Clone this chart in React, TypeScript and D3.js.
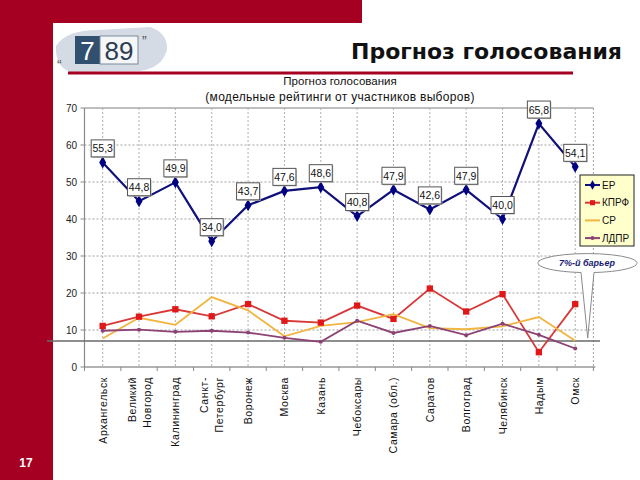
import React from 'react';
import * as d3 from 'd3';

// cities (multi-line labels split into arrays)
const cities: string[][] = [
  ['Архангельск'],
  ['Великий', 'Новгород'],
  ['Калининград'],
  ['Санкт-', 'Петербург'],
  ['Воронеж'],
  ['Москва'],
  ['Казань'],
  ['Чебоксары'],
  ['Самара (обл.)'],
  ['Саратов'],
  ['Волгоград'],
  ['Челябинск'],
  ['Надым'],
  ['Омск'],
];

const er = [55.3, 44.8, 49.9, 34.0, 43.7, 47.6, 48.6, 40.8, 47.9, 42.6, 47.9, 40.0, 65.8, 54.1];
const kprf = [11.1, 13.6, 15.6, 13.7, 17.0, 12.5, 12.0, 16.6, 13.0, 21.2, 15.0, 19.7, 4.0, 17.0];
const sr = [7.7, 13.3, 11.4, 18.9, 15.3, 8.3, 11.1, 12.1, 14.3, 10.5, 10.2, 11.0, 13.5, 7.1];
const ldpr = [9.8, 10.1, 9.5, 9.8, 9.3, 7.9, 6.8, 12.5, 9.2, 11.1, 8.6, 11.7, 8.7, 5.0];

const yTicks = [0, 10, 20, 30, 40, 50, 60, 70];
const barrier = 7;

const seriesNames = ['ЕР', 'КПРФ', 'СР', 'ЛДПР'];
const seriesColors = ['#10107a', '#d83838', '#f2b440', '#8c4275'];

const RED = '#a50021';
const FONT = '"Liberation Sans", Arial, sans-serif';

const App: React.FC = () => {
  const keys = cities.map((_, i) => String(i));
  const x = d3.scaleBand<string>().domain(keys).range([84.5, 593.4]).padding(0);
  const y = d3.scaleLinear().domain([0, 70]).range([367, 108]);
  const cx = (i: number) => (x(String(i)) || 0) + x.bandwidth() / 2;

  const line = d3
    .line<number>()
    .x((_, i) => cx(i))
    .y((d) => y(d));

  const all = [er, kprf, sr, ldpr];
  const fmt = (v: number) => d3.format('.1f')(v).replace('.', ',');
  const diamond = d3.symbol().type(d3.symbolDiamond).size(42)();
  const square = d3.symbol().type(d3.symbolSquare).size(40)();

  const left = 84.5;
  const right = 593.4;

  return (
    <svg width={640} height={480} style={{ position: 'absolute', left: 0, top: 0, background: '#fff' }}>
      {/* slide frame */}
      <rect x={0} y={0} width={53} height={480} fill={RED} />
      <rect x={0} y={0} width={362} height={23} fill={RED} />
      <text x={26} y={467} fill="#fff" fontFamily={FONT} fontWeight="bold" fontSize={12} textAnchor="middle">
        17
      </text>

      {/* logo */}
      <g>
        <path d="M56,46 Q66,30 98,30 L150,27 Q168,33 167,50 Q162,68 140,71 L70,72 Q55,66 56,46 Z" fill="#d5dbe4" />
        <rect x={75} y={36} width={25} height={28} fill="#31506f" />
        <text x={87.5} y={60} fill="#fff" fontFamily={FONT} fontSize={26} textAnchor="middle">7</text>
        <rect x={100} y={36} width={38} height={28} fill="#f4f6f8" stroke="#7a8a9a" strokeWidth={1} />
        <text x={119} y={60} fill="#2d3c50" fontFamily={FONT} fontSize={26} textAnchor="middle">89</text>
        <text x={142} y={46} fill="#555" fontFamily={FONT} fontSize={14}>”</text>
        <text x={57} y={70} fill="#555" fontFamily={FONT} fontSize={14}>“</text>
      </g>

      {/* slide title */}
      <text x={622} y={59} fontFamily={'"DejaVu Sans", sans-serif'} fontWeight="bold" fontSize={22} textAnchor="end" fill="#111">
        Прогноз голосования
      </text>
      <line x1={68} x2={573} y1={73} y2={73} stroke={RED} strokeWidth={3} />

      {/* chart title */}
      <text x={340} y={85} fontFamily={FONT} fontSize={11.5} textAnchor="middle" fill="#111">
        Прогноз голосования
      </text>
      <text x={340} y={101} fontFamily={FONT} fontSize={12} textAnchor="middle" fill="#111" letterSpacing={0.3}>
        (модельные рейтинги от участников выборов)
      </text>

      {/* grid */}
      {yTicks.slice(1, -1).map((t) => (
        <line key={'h' + t} x1={left} x2={right} y1={y(t)} y2={y(t)} stroke="#a0a0a0" strokeDasharray="2,2" />
      ))}
      {cities.map((_, i) => (
        <line key={'v' + i} x1={cx(i)} x2={cx(i)} y1={y(70)} y2={y(0)} stroke="#b0b0b0" strokeDasharray="2,2" />
      ))}
      <line x1={right} x2={right} y1={y(70)} y2={y(0)} stroke="#a0a0a0" strokeDasharray="2,2" />
      <line x1={left} x2={right} y1={y(70)} y2={y(70)} stroke="#a8a8a8" strokeWidth={1.5} />

      {/* axes */}
      <line x1={left} x2={left} y1={y(70)} y2={y(0)} stroke="#8a8a8a" strokeWidth={1.2} />
      <line x1={left} x2={right + 2} y1={y(0)} y2={y(0)} stroke="#666" strokeWidth={1.2} />
      {yTicks.map((t) => (
        <g key={'yt' + t}>
          <line x1={left - 4} x2={left} y1={y(t)} y2={y(t)} stroke="#888" />
          <text x={77} y={y(t) + 3.5} fontFamily={FONT} fontSize={10} textAnchor="end" fill="#222">
            {t}
          </text>
        </g>
      ))}
      {d3.range(cities.length + 1).map((i) => {
        const xx = i < cities.length ? x(String(i)) || 0 : right;
        return <line key={'xt' + i} x1={xx} x2={xx} y1={y(0)} y2={y(0) + 4} stroke="#888" />;
      })}
      {cities.map((lines, i) => (
        <text
          key={'xl' + i}
          transform={`translate(${cx(i)},377) rotate(-90)`}
          fontFamily={FONT}
          fontSize={10.5}
          letterSpacing={0.6}
          textAnchor="end"
          fill="#111"
        >
          {lines.map((s, j) => (
            <tspan key={j} x={0} y={(j - (lines.length - 1) / 2) * 15 + 4}>
              {s}
            </tspan>
          ))}
        </text>
      ))}

      {/* 7% barrier */}
      <line x1={47} x2={600} y1={y(barrier)} y2={y(barrier)} stroke="#6a6a6a" strokeWidth={1.5} />

      {/* series lines */}
      {all.map((s, k) => (
        <path key={'s' + k} d={line(s) || ''} fill="none" stroke={seriesColors[k]} strokeWidth={k === 0 ? 2.2 : 1.8} />
      ))}
      {ldpr.map((v, i) => (
        <circle key={'lp' + i} cx={cx(i)} cy={y(v)} r={2} fill={seriesColors[3]} />
      ))}
      {kprf.map((v, i) => (
        <path key={'kp' + i} d={square || ''} transform={`translate(${cx(i)},${y(v)})`} fill="#e01818" />
      ))}
      {er.map((v, i) => (
        <path key={'ep' + i} d={diamond || ''} transform={`translate(${cx(i)},${y(v)})`} fill="#000080" />
      ))}

      {/* ER value labels */}
      {er.map((v, i) => {
        const by = y(v) - 14;
        return (
          <g key={'lb' + i}>
            <rect x={cx(i) - 11.5 + 1} y={by - 8.5 + 1} width={23} height={17} fill="#bbb" />
            <rect x={cx(i) - 11.5} y={by - 8.5} width={23} height={17} fill="#fff" stroke="#555" />
            <text x={cx(i)} y={by + 4} fontFamily={FONT} fontSize={10.5} textAnchor="middle" fill="#111">
              {fmt(v)}
            </text>
          </g>
        );
      })}

      {/* legend */}
      <rect x={580} y={175} width={54} height={71} fill="#ffffcc" stroke="#222" />
      {seriesNames.map((n, k) => {
        const ly = 185 + k * 17.7;
        return (
          <g key={'lg' + k}>
            <line x1={585} x2={600} y1={ly} y2={ly} stroke={seriesColors[k]} strokeWidth={2} />
            {k === 0 && <path d={diamond || ''} transform={`translate(592.5,${ly}) scale(0.8)`} fill="#000080" />}
            {k === 1 && <path d={square || ''} transform={`translate(592.5,${ly}) scale(0.8)`} fill="#e01818" />}
            {k === 3 && <circle cx={592.5} cy={ly} r={2} fill={seriesColors[3]} />}
            <text x={602} y={ly + 3.5} fontFamily={FONT} fontSize={10} fill="#111">
              {n}
            </text>
          </g>
        );
      })}

      {/* callout */}
      <path
        d={`M581,272.5 A49.5,9.5 0 1,1 594,272.5 L587.7,${y(barrier) - 3} Z`}
        fill="#fff"
        stroke="#8a8a8a"
        strokeWidth={1}
      />
      <text x={587} y={266} fontFamily={FONT} fontSize={9} fontWeight="bold" fontStyle="italic" textAnchor="middle" fill="#1a1a70">
        7%-й барьер
      </text>
    </svg>
  );
};

export default App;
